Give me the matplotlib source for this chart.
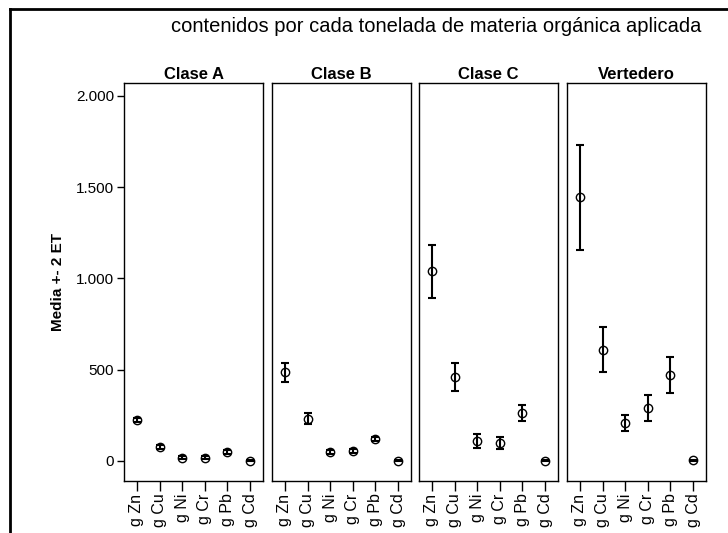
import matplotlib
matplotlib.use("Agg")
import matplotlib.pyplot as plt
from matplotlib.lines import Line2D
from matplotlib.ticker import FuncFormatter
import numpy as np

plt.rcParams['font.family'] = ['Liberation Sans', 'DejaVu Sans']

metals = ["g Zn", "g Cu", "g Ni", "g Cr", "g Pb", "g Cd"]
panels = ["Clase A", "Clase B", "Clase C", "Vertedero"]

# media y 2 ET por panel
mean_a = [224, 78, 17, 17, 49, 1]
err_a = [12, 10, 8, 8, 9, 4]
mean_b = [487, 230, 49, 55, 120, 1]
err_b = [52, 30, 9, 12, 12, 4]
mean_c = [1040, 460, 110, 99, 263, 1]
err_c = [145, 77, 40, 32, 46, 4]
mean_v = [1443, 610, 208, 290, 470, 3]
err_v = [285, 122, 44, 73, 99, 4]

means = [mean_a, mean_b, mean_c, mean_v]
errs = [err_a, err_b, err_c, err_v]

fig = plt.figure(figsize=(7.28, 5.33), dpi=100)
W, H = 728, 533

# marco exterior (solo izquierda y arriba visibles)
fig.add_artist(Line2D([10 / W, 10 / W], [0, 1 - 9 / H], color='black', lw=2))
fig.add_artist(Line2D([10 / W, 1], [1 - 9 / H, 1 - 9 / H], color='black', lw=2))

fig.text(436 / W, 1 - 27 / H, "contenidos por cada tonelada de materia orgánica aplicada",
         ha='center', va='center', fontsize=14.5)

lefts = [124, 272, 419, 567]
pw = 139
top, bottom = 83, 481
x = np.arange(len(metals))

for i, (name, m, e) in enumerate(zip(panels, means, errs)):
    ax = fig.add_axes([lefts[i] / W, 1 - bottom / H, pw / W, (bottom - top) / H])
    ax.errorbar(x, m, yerr=e, fmt='none', ecolor='black', elinewidth=1.5,
                capsize=3, capthick=1.5)
    ax.plot(x, m, 'o', mfc='none', mec='black', ms=6, mew=1)
    ax.set_xlim(-0.57, 5.57)
    ax.set_ylim(-110, 2070)
    ax.set_xticks(x)
    ax.set_xticklabels(metals, rotation=90, fontsize=11.5)
    ax.tick_params(axis='x', direction='out', length=7, width=1, pad=2)
    ax.set_title(name, fontsize=12, fontweight='bold', pad=3)
    for s in ax.spines.values():
        s.set_linewidth(1)
    if i == 0:
        ax.set_yticks([0, 500, 1000, 1500, 2000])
        ax.yaxis.set_major_formatter(FuncFormatter(lambda v, p: f"{int(v):,}".replace(",", ".")))
        ax.tick_params(axis='y', direction='out', length=5, width=1, labelsize=11, pad=2)
        ax.set_ylabel("Media +- 2 ET", fontsize=11, fontweight='bold', labelpad=8)
    else:
        ax.set_yticks([])

fig.savefig("out.png", dpi=100)
